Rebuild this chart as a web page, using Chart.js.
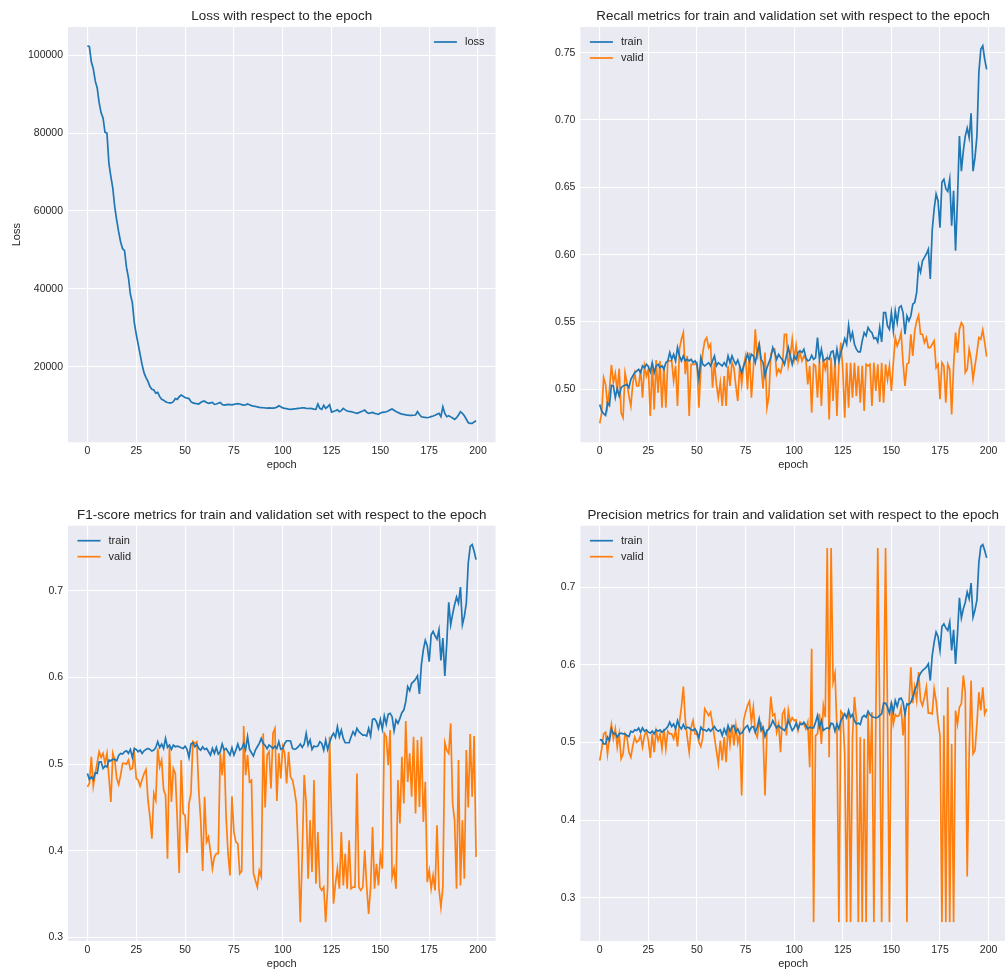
<!DOCTYPE html>
<html>
<head>
<meta charset="utf-8">
<script src="https://cdn.jsdelivr.net/npm/chart.js@4.4.1/dist/chart.umd.min.js"></script>
<style>
  html, body { margin: 0; padding: 0; background: #ffffff; overflow: hidden; }
  #page { position: relative; width: 1005px; height: 972px; overflow: hidden; }
  canvas { position: absolute; }
</style>
</head>
<body>
<div id="page">
  <canvas id="lossChart"></canvas>
  <canvas id="recallChart"></canvas>
  <canvas id="f1Chart"></canvas>
  <canvas id="precisionChart"></canvas>
</div>
<script>
// epochs 0..199
const epochs = [];
for (let i = 0; i < 200; i++) epochs.push(i);

const lossValues = [
  102400, 102200, 98300, 96550, 93400, 91600, 87800, 85200, 83900, 80200,
  80000, 72200, 68800, 65800, 61000, 57600, 54600, 52000, 50300, 49800,
  45500, 42900, 38600, 36400, 31300, 28300, 25700, 23100, 20500, 18400,
  17200, 16200, 14900, 14200, 14000, 13200, 13400, 12300, 11600, 11400,
  11000, 10800, 10700, 10700, 11000, 11800, 11600, 12300, 12700, 12400,
  12100, 11900, 11800, 11000, 10700, 10570, 10500, 10400, 10800, 11100,
  11170, 10800, 10570, 10700, 10800, 10300, 10400, 10600, 10800, 10300,
  10100, 10200, 10300, 10250, 10200, 10300, 10400, 10480, 10400, 10250,
  10100, 10200, 10400, 10200, 10000, 9880, 9800, 9650, 9540, 9500,
  9450, 9400, 9370, 9400, 9350, 9370, 9400, 9600, 9970, 9700,
  9400, 9280, 9200, 9100, 9030, 9100, 9150, 9200, 9300, 9350,
  9450, 9400, 9300, 9250, 9280, 9200, 9100, 9030, 10400, 9300,
  9030, 10100, 9280, 9700, 10230, 8340, 8500, 8680, 8900, 8430,
  8700, 9280, 8900, 8600, 8500, 8430, 8300, 8150, 8000, 8200,
  8430, 8600, 8850, 8300, 8000, 8150, 8250, 8000, 7900, 7740,
  8100, 8250, 8300, 8430, 8600, 8900, 9110, 8800, 8500, 8250,
  8000, 7800, 7740, 7600, 7550, 7480, 7500, 7520, 7570, 8430,
  7700, 7140, 7050, 6950, 6880, 7000, 7150, 7310, 7500, 7800,
  8000, 7140, 9710, 8000, 7140, 7400, 7100, 6800, 6450, 6900,
  7600, 8430, 8000, 7400, 6500, 5600, 5420, 5420, 5800, 6100
];

const recallTrain = [
  0.4888, 0.4839, 0.4819, 0.4807, 0.4901, 0.4881, 0.5030, 0.5025, 0.4938, 0.5005,
  0.4950, 0.5012, 0.5025, 0.5030, 0.5037, 0.5012, 0.5074, 0.5099, 0.5124, 0.5136,
  0.5149, 0.5124, 0.5174, 0.5161, 0.5186, 0.5169, 0.5129, 0.5198, 0.5124, 0.5174,
  0.5186, 0.5161, 0.5174, 0.5149, 0.5198, 0.5211, 0.5273, 0.5223, 0.5260, 0.5211,
  0.5310, 0.5248, 0.5211, 0.5248, 0.5211, 0.5223, 0.5211, 0.5223, 0.5198, 0.5211,
  0.5186, 0.5074, 0.5236, 0.5186, 0.5174, 0.5186, 0.5198, 0.5174, 0.5211, 0.5248,
  0.5174, 0.5198, 0.5186, 0.5174, 0.5198, 0.5174, 0.5248, 0.5198, 0.5248, 0.5211,
  0.5186, 0.5218, 0.5174, 0.5124, 0.5174, 0.5211, 0.5260, 0.5211, 0.5260, 0.5248,
  0.5198, 0.5273, 0.5335, 0.5223, 0.5198, 0.5099, 0.5161, 0.5198, 0.5236, 0.5310,
  0.5273, 0.5223, 0.5260, 0.5236, 0.5218, 0.5186, 0.5248, 0.5310, 0.5248, 0.5186,
  0.5248, 0.5223, 0.5273, 0.5285, 0.5273, 0.5298, 0.5236, 0.5211, 0.5218, 0.5253,
  0.5223, 0.5236, 0.5384, 0.5223, 0.5298, 0.5211, 0.5223, 0.5236, 0.5223, 0.5278,
  0.5285, 0.5198, 0.5298, 0.5211, 0.5273, 0.5322, 0.5377, 0.5335, 0.5476, 0.5372,
  0.5421, 0.5335, 0.5298, 0.5278, 0.5278, 0.5360, 0.5421, 0.5397, 0.5459, 0.5434,
  0.5421, 0.5377, 0.5384, 0.5352, 0.5459, 0.5352, 0.5570, 0.5570, 0.5471, 0.5446,
  0.5570, 0.5434, 0.5583, 0.5496, 0.5607, 0.5620, 0.5570, 0.5409, 0.5545, 0.5508,
  0.5545, 0.5632, 0.5645, 0.5719, 0.5920, 0.5870, 0.5955, 0.5980, 0.6005, 0.6040,
  0.5820, 0.6180, 0.6340, 0.6450, 0.6400, 0.6200, 0.6540, 0.6560, 0.6490, 0.6470,
  0.6560, 0.6215, 0.6475, 0.6030, 0.6410, 0.6880, 0.6620, 0.6770, 0.6880, 0.6940,
  0.6870, 0.7050, 0.6620, 0.6720, 0.6880, 0.7356, 0.7525, 0.7550, 0.7450, 0.7375
];

const recallValid = [
  0.4747, 0.4826, 0.5087, 0.5037, 0.4876, 0.5000, 0.5181, 0.5050, 0.5119, 0.4988,
  0.5154, 0.4826, 0.4789, 0.5124, 0.5050, 0.4950, 0.4876, 0.5045, 0.5119, 0.5025,
  0.5025, 0.5149, 0.4938, 0.5174, 0.5099, 0.5149, 0.4802, 0.5198, 0.4851, 0.5218,
  0.4975, 0.5211, 0.4864, 0.5174, 0.4864, 0.5211, 0.5211, 0.5211, 0.5062, 0.5174,
  0.4876, 0.5298, 0.5372, 0.5421, 0.5112, 0.5248, 0.4802, 0.5186, 0.5186, 0.5186,
  0.5198, 0.4864, 0.5149, 0.5273, 0.5360, 0.5384, 0.5310, 0.5335, 0.5012, 0.5198,
  0.5037, 0.4938, 0.5050, 0.4876, 0.5099, 0.4876, 0.5174, 0.5025, 0.5198, 0.5161,
  0.5025, 0.4913, 0.5174, 0.5037, 0.5174, 0.5248, 0.5000, 0.5273, 0.4938, 0.5149,
  0.5446, 0.5223, 0.5347, 0.5174, 0.5005, 0.5273, 0.4864, 0.4950, 0.5260, 0.5298,
  0.5298, 0.5112, 0.5149, 0.5124, 0.5186, 0.5409, 0.5409, 0.5174, 0.5248, 0.5372,
  0.5223, 0.5327, 0.5211, 0.5273, 0.5211, 0.5248, 0.5223, 0.5037, 0.5174, 0.4826,
  0.5186, 0.5174, 0.4938, 0.5211, 0.4876, 0.5223, 0.5149, 0.5223, 0.4777, 0.5236,
  0.4913, 0.5223, 0.4802, 0.5186, 0.5347, 0.5149, 0.4789, 0.5198, 0.4864, 0.5198,
  0.4938, 0.5198, 0.4950, 0.5174, 0.4901, 0.5174, 0.4839, 0.5186, 0.5174, 0.5186,
  0.4876, 0.5198, 0.4988, 0.5186, 0.4906, 0.5198, 0.4901, 0.5186, 0.5074, 0.5174,
  0.4988, 0.5198, 0.5384, 0.5322, 0.5360, 0.5421, 0.5198, 0.5025, 0.5186, 0.5198,
  0.5409, 0.5248, 0.5434, 0.5508, 0.5550, 0.5409, 0.5409, 0.5347, 0.5384, 0.5310,
  0.5310, 0.5335, 0.5360, 0.5161, 0.5186, 0.4926, 0.5198, 0.5174, 0.4901, 0.5186,
  0.5149, 0.4814, 0.5174, 0.5421, 0.5273, 0.5446, 0.5496, 0.5471, 0.5124, 0.5149,
  0.5298, 0.5223, 0.5074, 0.5174, 0.5273, 0.5384, 0.5372, 0.5441, 0.5347, 0.5243
];

const f1Train = [
  0.4892, 0.4822, 0.4853, 0.4822, 0.4900, 0.4892, 0.5027, 0.5027, 0.4950, 0.4977,
  0.4969, 0.5046, 0.5039, 0.5054, 0.5054, 0.5039, 0.5100, 0.5124, 0.5116, 0.5143,
  0.5154, 0.5124, 0.5170, 0.5077, 0.5181, 0.5170, 0.5143, 0.5162, 0.5124, 0.5154,
  0.5170, 0.5181, 0.5170, 0.5151, 0.5162, 0.5193, 0.5259, 0.5193, 0.5232, 0.5181,
  0.5297, 0.5193, 0.5220, 0.5170, 0.5220, 0.5201, 0.5208, 0.5201, 0.5189, 0.5181,
  0.5208, 0.5170, 0.5077, 0.5232, 0.5247, 0.5201, 0.5228, 0.5181, 0.5162, 0.5201,
  0.5170, 0.5181, 0.5143, 0.5104, 0.5181, 0.5124, 0.5193, 0.5116, 0.5143, 0.5232,
  0.5162, 0.5181, 0.5143, 0.5104, 0.5189, 0.5104, 0.5162, 0.5232, 0.5162, 0.5181,
  0.5239, 0.5170, 0.5317, 0.5170, 0.5131, 0.5093, 0.5162, 0.5201, 0.5239, 0.5297,
  0.5239, 0.5216, 0.5178, 0.5220, 0.5201, 0.5181, 0.5208, 0.5181, 0.5259, 0.5170,
  0.5181, 0.5239, 0.5270, 0.5270, 0.5266, 0.5181, 0.5170, 0.5181, 0.5201, 0.5232,
  0.5193, 0.5232, 0.5355, 0.5220, 0.5278, 0.5170, 0.5208, 0.5201, 0.5208, 0.5259,
  0.5239, 0.5162, 0.5278, 0.5170, 0.5247, 0.5317, 0.5355, 0.5309, 0.5432, 0.5317,
  0.5394, 0.5297, 0.5247, 0.5247, 0.5247, 0.5317, 0.5375, 0.5336, 0.5413, 0.5375,
  0.5355, 0.5336, 0.5336, 0.5324, 0.5413, 0.5324, 0.5517, 0.5525, 0.5490, 0.5413,
  0.5517, 0.5402, 0.5556, 0.5463, 0.5575, 0.5587, 0.5548, 0.5386, 0.5510, 0.5471,
  0.5529, 0.5595, 0.5625, 0.5722, 0.5896, 0.5849, 0.5934, 0.5954, 0.5981, 0.6019,
  0.5811, 0.6147, 0.6320, 0.6429, 0.6367, 0.6185, 0.6494, 0.6533, 0.6483, 0.6444,
  0.6552, 0.6197, 0.6456, 0.6019, 0.6398, 0.6869, 0.6610, 0.6734, 0.6842, 0.6931,
  0.6861, 0.7046, 0.6610, 0.6707, 0.6861, 0.7324, 0.7517, 0.7537, 0.7459, 0.7363
];

const f1Valid = [
  0.4737, 0.4776, 0.5085, 0.4745, 0.4892, 0.5015, 0.5143, 0.5077, 0.5124, 0.5008,
  0.5124, 0.4853, 0.4564, 0.5124, 0.5046, 0.4834, 0.4764, 0.4873, 0.5008, 0.5008,
  0.5000, 0.5046, 0.4938, 0.4950, 0.5124, 0.4834, 0.4815, 0.4745, 0.4822, 0.4892,
  0.4938, 0.4583, 0.4390, 0.4139, 0.4660, 0.4583, 0.5181, 0.4969, 0.5046, 0.4707,
  0.4641, 0.3907, 0.5201, 0.4564, 0.4950, 0.4892, 0.4351, 0.3741, 0.5046, 0.4429,
  0.4409, 0.3973, 0.4544, 0.4660, 0.5259, 0.5239, 0.5259, 0.4699, 0.4351, 0.3764,
  0.4622, 0.4100, 0.4158, 0.3985, 0.3792, 0.3927, 0.3965, 0.3965, 0.5124, 0.4873,
  0.5181, 0.4390, 0.3965, 0.3714, 0.4629, 0.4216, 0.4100, 0.4081, 0.3734, 0.3764,
  0.5440, 0.4873, 0.5104, 0.4795, 0.4815, 0.3741, 0.3656, 0.3579, 0.3772, 0.3703,
  0.5355, 0.4498, 0.5104, 0.5143, 0.4718, 0.5355, 0.5413, 0.4575, 0.5124, 0.4834,
  0.5201, 0.5124, 0.4776, 0.5143, 0.4853, 0.4815, 0.4700, 0.4544, 0.3965, 0.3174,
  0.3965, 0.4873, 0.4544, 0.3676, 0.4351, 0.3753, 0.4815, 0.3618, 0.4216, 0.3579,
  0.3541, 0.3579, 0.3174, 0.3579, 0.5317, 0.4351, 0.3386, 0.3618, 0.3792, 0.3560,
  0.4216, 0.3598, 0.3965, 0.3560, 0.4120, 0.3560, 0.3579, 0.3579, 0.4892, 0.3579,
  0.3541, 0.3579, 0.4004, 0.3579, 0.3270, 0.3579, 0.4274, 0.3560, 0.3849, 0.3598,
  0.3946, 0.3792, 0.5355, 0.5317, 0.4988, 0.5394, 0.3695, 0.3792, 0.3560, 0.4815,
  0.4313, 0.5085, 0.4544, 0.5498, 0.4795, 0.5124, 0.4622, 0.5317, 0.4429, 0.5278,
  0.4506, 0.5317, 0.4332, 0.4795, 0.3637, 0.3772, 0.3560, 0.3714, 0.3541, 0.4293,
  0.3560, 0.3347, 0.3579, 0.5247, 0.5162, 0.5124, 0.5471, 0.4544, 0.4351, 0.3560,
  0.5046, 0.3598, 0.4351, 0.3676, 0.5162, 0.4498, 0.5347, 0.4622, 0.5324, 0.3927
];

const precisionTrain = [
  0.5034, 0.5034, 0.4983, 0.4983, 0.5069, 0.5026, 0.5176, 0.5112, 0.5120, 0.5069,
  0.5112, 0.5120, 0.5112, 0.5112, 0.5090, 0.5077, 0.5146, 0.5133, 0.5163, 0.5155,
  0.5185, 0.5133, 0.5189, 0.5146, 0.5163, 0.5133, 0.5120, 0.5146, 0.5112, 0.5163,
  0.5146, 0.5163, 0.5133, 0.5155, 0.5176, 0.5206, 0.5262, 0.5206, 0.5240, 0.5176,
  0.5283, 0.5206, 0.5176, 0.5232, 0.5176, 0.5197, 0.5189, 0.5163, 0.5155, 0.5176,
  0.5133, 0.5060, 0.5197, 0.5163, 0.5163, 0.5146, 0.5176, 0.5146, 0.5176, 0.5206,
  0.5163, 0.5146, 0.5163, 0.5090, 0.5176, 0.5112, 0.5219, 0.5146, 0.5197, 0.5219,
  0.5133, 0.5176, 0.5112, 0.5120, 0.5163, 0.5197, 0.5219, 0.5146, 0.5197, 0.5206,
  0.5133, 0.5197, 0.5305, 0.5155, 0.5197, 0.5077, 0.5155, 0.5176, 0.5219, 0.5283,
  0.5232, 0.5189, 0.5219, 0.5189, 0.5176, 0.5155, 0.5197, 0.5283, 0.5219, 0.5155,
  0.5189, 0.5249, 0.5176, 0.5240, 0.5232, 0.5262, 0.5219, 0.5176, 0.5197, 0.5189,
  0.5189, 0.5262, 0.5348, 0.5197, 0.5283, 0.5155, 0.5176, 0.5189, 0.5176, 0.5249,
  0.5240, 0.5146, 0.5240, 0.5176, 0.5283, 0.5326, 0.5369, 0.5318, 0.5412, 0.5326,
  0.5361, 0.5283, 0.5240, 0.5249, 0.5232, 0.5326, 0.5348, 0.5326, 0.5403, 0.5361,
  0.5335, 0.5326, 0.5318, 0.5326, 0.5348, 0.5369, 0.5506, 0.5506, 0.5455, 0.5378,
  0.5506, 0.5391, 0.5541, 0.5464, 0.5562, 0.5571, 0.5519, 0.5369, 0.5498, 0.5489,
  0.5519, 0.5584, 0.5670, 0.5734, 0.5841, 0.5893, 0.5927, 0.5948, 0.5970, 0.6013,
  0.5798, 0.6120, 0.6292, 0.6421, 0.6365, 0.6185, 0.6494, 0.6528, 0.6476, 0.6442,
  0.6549, 0.6185, 0.6451, 0.6013, 0.6399, 0.6863, 0.6605, 0.6721, 0.6807, 0.6936,
  0.6850, 0.7052, 0.6614, 0.6708, 0.6837, 0.7322, 0.7524, 0.7549, 0.7472, 0.7378
];

const precisionValid = [
  0.4768, 0.4918, 0.5112, 0.5133, 0.4854, 0.5069, 0.5232, 0.5047, 0.5176, 0.4940,
  0.5112, 0.4790, 0.4854, 0.5112, 0.5069, 0.4876, 0.4811, 0.4961, 0.5069, 0.5004,
  0.5026, 0.5090, 0.4940, 0.5090, 0.5146, 0.5026, 0.4803, 0.5112, 0.4876, 0.5146,
  0.5026, 0.5112, 0.4918, 0.5176, 0.4918, 0.5146, 0.5112, 0.5112, 0.5047, 0.5163,
  0.4948, 0.5262, 0.5455, 0.5721, 0.5292, 0.5069, 0.4876, 0.5197, 0.5283, 0.5112,
  0.5112, 0.5004, 0.4948, 0.5069, 0.5433, 0.5391, 0.5348, 0.5391, 0.5240, 0.5069,
  0.4897, 0.4725, 0.5026, 0.4768, 0.5069, 0.4747, 0.5206, 0.4974, 0.5232, 0.4961,
  0.5219, 0.4991, 0.5112, 0.4318, 0.5283, 0.5391, 0.5476, 0.5532, 0.5262, 0.5455,
  0.5133, 0.5069, 0.5262, 0.5249, 0.5112, 0.4318, 0.5155, 0.5176, 0.5592, 0.5348,
  0.5369, 0.5133, 0.5240, 0.4876, 0.5369, 0.5421, 0.5090, 0.5412, 0.5262, 0.5318,
  0.5283, 0.5292, 0.5155, 0.5262, 0.5240, 0.5240, 0.5176, 0.5262, 0.4682, 0.6206,
  0.2687, 0.5090, 0.5112, 0.5369, 0.4983, 0.5476, 0.5326, 0.7506, 0.4811, 0.7506,
  0.5777, 0.5893, 0.5176, 0.2687, 0.5403, 0.5369, 0.4854, 0.2687, 0.5369, 0.2687,
  0.5069, 0.5584, 0.5305, 0.2687, 0.5069, 0.2687, 0.5047, 0.2687, 0.5369, 0.4597,
  0.5391, 0.2687, 0.5305, 0.7506, 0.5369, 0.2687, 0.5326, 0.7506, 0.5369, 0.2687,
  0.5519, 0.5240, 0.5361, 0.5335, 0.5348, 0.5455, 0.5090, 0.5412, 0.2687, 0.5476,
  0.5970, 0.5506, 0.5712, 0.5541, 0.5906, 0.5541, 0.5476, 0.5584, 0.5712, 0.5378,
  0.5378, 0.5369, 0.5691, 0.5541, 0.5283, 0.5090, 0.2687, 0.5348, 0.2687, 0.5712,
  0.2687, 0.4983, 0.2687, 0.5412, 0.5240, 0.5455, 0.5498, 0.5863, 0.5648, 0.3275,
  0.4854, 0.5798, 0.4854, 0.4897, 0.5240, 0.5648, 0.5412, 0.5712, 0.5369, 0.5433
];

const epochTicks = [0, 25, 50, 75, 100, 125, 150, 175, 200];
const lossTicks = [20000, 40000, 60000, 80000, 100000];
const recallTicks = [0.50, 0.55, 0.60, 0.65, 0.70, 0.75];
const scoreTicks = [0.3, 0.4, 0.5, 0.6, 0.7];

const BLUE = "#1f77b4";
const ORANGE = "#ff7f0e";
const TEXT = "#262626";
const FONT = "'Liberation Sans', Arial, sans-serif";
const TITLE_SIZE = 13.4;

// grey panel behind the plot, seaborn style
const panelBackground = {
  id: "panelBackground",
  beforeDraw(chart) {
    const { ctx, chartArea } = chart;
    ctx.save();
    ctx.fillStyle = "#eaeaf2";
    ctx.fillRect(chartArea.left, chartArea.top, chartArea.width, chartArea.height);
    ctx.restore();
  },
};

// legend drawn inside the plot, no frame
const innerLegend = {
  id: "innerLegend",
  afterDatasetsDraw(chart, args, opts) {
    const { ctx, chartArea } = chart;
    ctx.save();
    ctx.font = "11px " + FONT;
    ctx.textBaseline = "middle";
    chart.data.datasets.forEach((ds, i) => {
      const y = chartArea.top + 15 + i * 16;
      const w = ctx.measureText(ds.label).width;
      let lineStart;
      if (opts.side === "right") {
        const textStart = chartArea.right - 11 - w;
        lineStart = textStart - 8 - 23;
      } else {
        lineStart = chartArea.left + 9.5;
      }
      ctx.strokeStyle = ds.borderColor;
      ctx.lineWidth = 1.7;
      ctx.beginPath();
      ctx.moveTo(lineStart, y);
      ctx.lineTo(lineStart + 23, y);
      ctx.stroke();
      ctx.fillStyle = TEXT;
      ctx.textAlign = "left";
      ctx.fillText(ds.label, lineStart + 31, y);
    });
    ctx.restore();
  },
};

function paddedRange(seriesList) {
  let lo = Infinity, hi = -Infinity;
  seriesList.forEach((s) => s.forEach((v) => { lo = Math.min(lo, v); hi = Math.max(hi, v); }));
  const m = (hi - lo) * 0.05;
  return [lo - m, hi + m];
}

function buildPanel(id, cfg) {
  const canvas = document.getElementById(id);
  canvas.width = cfg.width;
  canvas.height = cfg.height;
  canvas.style.left = cfg.left + "px";
  canvas.style.top = cfg.top + "px";
  canvas.style.width = cfg.width + "px";
  canvas.style.height = cfg.height + "px";

  const [yMin, yMax] = paddedRange(cfg.series.map((s) => s.data));
  const titleLine = TITLE_SIZE * 1.2;

  return new Chart(canvas, {
    type: "line",
    data: {
      datasets: cfg.series.map((s) => ({
        label: s.label,
        data: s.data.map((v, i) => ({ x: epochs[i], y: v })),
        borderColor: s.color,
        backgroundColor: s.color,
        borderWidth: 1.7,
        pointRadius: 0,
        tension: 0,
        fill: false,
      })),
    },
    options: {
      responsive: false,
      animation: false,
      devicePixelRatio: 1,
      events: [],
      layout: { padding: { left: 0, right: cfg.padRight, top: 0, bottom: 0 } },
      plugins: {
        legend: { display: false },
        tooltip: { enabled: false },
        title: {
          display: true,
          fullSize: false,
          text: cfg.title,
          color: TEXT,
          font: { family: FONT, size: TITLE_SIZE, weight: "normal" },
          padding: { top: cfg.titleCenter - titleLine / 2, bottom: cfg.areaTop - cfg.titleCenter - titleLine / 2 },
        },
        innerLegend: { side: cfg.legendSide },
      },
      scales: {
        x: {
          type: "linear",
          min: -9.95,
          max: 208.95,
          afterBuildTicks: (s) => { s.ticks = epochTicks.map((v) => ({ value: v })); },
          afterFit: (s) => { s.height = cfg.height - cfg.areaBottom; },
          grid: { color: "#ffffff", lineWidth: 1.1, drawTicks: false },
          border: { display: false },
          ticks: { color: TEXT, font: { family: FONT, size: 10.5 }, padding: 3, maxRotation: 0, callback: (v) => String(v) },
          title: {
            display: true,
            text: "epoch",
            color: TEXT,
            font: { family: FONT, size: 11 },
            padding: { top: 0, bottom: cfg.epochPad },
          },
        },
        y: {
          type: "linear",
          min: yMin,
          max: yMax,
          afterBuildTicks: (s) => { s.ticks = cfg.yTicks.map((v) => ({ value: v })); },
          afterFit: (s) => { s.width = cfg.areaLeft; },
          grid: { color: "#ffffff", lineWidth: 1.1, drawTicks: false },
          border: { display: false },
          ticks: { color: TEXT, font: { family: FONT, size: 10.5 }, padding: 5, callback: cfg.yFormat },
          title: {
            display: !!cfg.yTitle,
            text: cfg.yTitle || "",
            color: TEXT,
            font: { family: FONT, size: 11 },
            padding: { top: 10, bottom: 0 },
          },
        },
      },
    },
    plugins: [panelBackground, innerLegend],
  });
}

buildPanel("lossChart", {
  left: 0, top: 0, width: 502, height: 472,
  areaLeft: 68, padRight: 6.5, areaTop: 27, areaBottom: 442.3,
  titleCenter: 16, epochPad: 0.5,
  title: "Loss with respect to the epoch",
  yTitle: "Loss",
  yTicks: lossTicks,
  yFormat: (v) => String(v),
  legendSide: "right",
  series: [{ label: "loss", data: lossValues, color: BLUE }],
});

buildPanel("recallChart", {
  left: 511, top: 0, width: 500, height: 472,
  areaLeft: 69.4, padRight: 5, areaTop: 27, areaBottom: 442.3,
  titleCenter: 16, epochPad: 0.5,
  title: "Recall metrics for train and validation set with respect to the epoch",
  yTicks: recallTicks,
  yFormat: (v) => v.toFixed(2),
  legendSide: "left",
  series: [
    { label: "train", data: recallTrain, color: BLUE },
    { label: "valid", data: recallValid, color: ORANGE },
  ],
});

buildPanel("f1Chart", {
  left: 0, top: 500, width: 502, height: 472,
  areaLeft: 68, padRight: 6.5, areaTop: 25.7, areaBottom: 441,
  titleCenter: 15, epochPad: 1,
  title: "F1-score metrics for train and validation set with respect to the epoch",
  yTicks: scoreTicks,
  yFormat: (v) => v.toFixed(1),
  legendSide: "left",
  series: [
    { label: "train", data: f1Train, color: BLUE },
    { label: "valid", data: f1Valid, color: ORANGE },
  ],
});

buildPanel("precisionChart", {
  left: 511, top: 500, width: 500, height: 472,
  areaLeft: 69.4, padRight: 5, areaTop: 25.7, areaBottom: 441,
  titleCenter: 15, epochPad: 1,
  title: "Precision metrics for train and validation set with respect to the epoch",
  yTicks: scoreTicks,
  yFormat: (v) => v.toFixed(1),
  legendSide: "left",
  series: [
    { label: "train", data: precisionTrain, color: BLUE },
    { label: "valid", data: precisionValid, color: ORANGE },
  ],
});
</script>
</body>
</html>
